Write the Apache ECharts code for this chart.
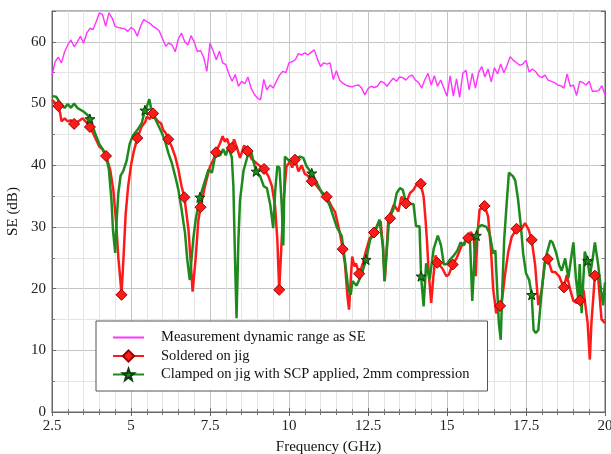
<!DOCTYPE html>
<html><head><meta charset="utf-8">
<script src="https://cdn.jsdelivr.net/npm/echarts@6/dist/echarts.min.js"></script>
<style>html,body{margin:0;padding:0;background:#fff}#c{width:611px;height:454px}</style>
</head><body><div id="c"></div>
<script>
// ---- Data ----
const xTickLabels = ['2.5','5','7.5','10','12.5','15','17.5','20'];
const yTickLabels = ['0','10','20','30','40','50','60'];
const seriesNames = ['Measurement dynamic range as SE','Soldered on jig','Clamped on jig with SCP applied, 2mm compression'];

const magFreq = [2.5,2.6,2.7,2.8,2.9,3.0,3.1,3.2,3.3,3.4,3.5,3.6,3.7,3.8,3.9,4.0,4.1,4.2,4.3,4.4,4.5,4.6,4.7,4.8,4.9,5.0,5.1,5.2,5.3,5.4,5.5,5.6,5.7,5.8,5.9,6.0,6.1,6.2,6.3,6.4,6.5,6.6,6.7,6.8,6.9,7.0,7.1,7.2,7.3,7.4,7.5,7.6,7.7,7.8,7.9,8.0,8.1,8.2,8.3,8.4,8.5,8.6,8.7,8.8,8.9,9.0,9.1,9.2,9.3,9.4,9.5,9.6,9.7,9.8,9.9,10.0,10.1,10.2,10.3,10.4,10.5,10.6,10.7,10.8,10.9,11.0,11.1,11.2,11.3,11.4,11.5,11.6,11.7,11.8,11.9,12.0,12.1,12.2,12.3,12.4,12.5,12.6,12.7,12.8,12.9,13.0,13.1,13.2,13.3,13.4,13.5,13.6,13.7,13.8,13.9,14.0,14.1,14.2,14.3,14.4,14.5,14.6,14.7,14.8,14.9,15.0,15.1,15.2,15.3,15.4,15.5,15.6,15.7,15.8,15.9,16.0,16.1,16.2,16.3,16.4,16.5,16.6,16.7,16.8,16.9,17.0,17.1,17.2,17.3,17.4,17.5,17.6,17.7,17.8,17.9,18.0,18.1,18.2,18.3,18.4,18.5,18.6,18.7,18.8,18.9,19.0,19.1,19.2,19.3,19.4,19.5,19.6,19.7,19.8,19.9,20.0];
const magSE = [54.5,56.8,57.5,56.6,58.4,59.5,60.3,59.2,60.0,60.9,59.8,61.4,62.2,62.0,63.3,64.7,64.4,62.5,64.7,63.9,62.5,62.3,62.2,62.1,61.7,62.3,62.0,60.9,62.5,63.6,63.3,63.0,62.5,62.2,61.7,60.5,59.3,59.8,59.5,58.4,60.5,61.4,60.0,59.5,61.0,60.0,58.4,58.6,57.5,55.2,59.8,58.5,57.1,58.5,56.6,56.3,54.8,53.6,54.7,52.8,53.6,53.2,54.3,52.5,51.5,50.9,50.6,53.9,52.2,53.0,52.5,53.6,54.6,55.2,55.0,56.6,56.8,57.1,58.1,57.9,58.2,57.9,58.3,58.7,57.2,56.0,56.6,56.4,56.6,53.9,55.3,53.8,53.3,53.0,52.8,52.7,52.9,53.0,52.5,51.4,52.4,52.8,52.6,52.8,53.6,53.4,52.8,53.5,54.1,53.6,54.3,54.2,53.8,54.4,54.6,53.8,53.4,52.5,53.9,54.9,53.0,54.5,52.8,53.8,52.5,51.2,54.5,51.2,54.0,51.0,54.9,55.4,52.2,54.9,52.5,55.0,56.0,54.3,55.6,53.5,55.8,54.8,56.4,55.0,56.2,57.6,57.0,56.6,56.2,56.4,57.0,55.1,55.6,55.2,54.5,54.2,54.6,53.8,53.6,53.4,53.0,52.9,52.5,54.8,52.8,53.0,51.3,53.6,53.4,53.0,53.6,52.0,52.0,52.1,52.9,51.4];

const redFreq = [2.5,2.54,2.7,2.76,2.8,2.9,3.0,3.1,3.2,3.33,3.47,3.6,3.7,3.8,3.9,4.0,4.1,4.21,4.34,4.44,4.53,4.6,4.67,4.7,4.77,4.83,4.91,5.01,5.1,5.2,5.34,5.45,5.5,5.6,5.7,5.78,5.86,5.95,6.02,6.1,6.18,6.29,6.4,6.5,6.6,6.69,6.82,6.9,6.95,7.05,7.13,7.2,7.34,7.5,7.6,7.69,7.82,7.9,7.97,8.04,8.12,8.19,8.26,8.35,8.45,8.58,8.69,8.82,8.98,9.1,9.21,9.35,9.46,9.56,9.63,9.69,9.77,9.84,9.92,10.03,10.1,10.19,10.3,10.4,10.5,10.6,10.72,10.82,10.93,11.05,11.19,11.35,11.46,11.61,11.7,11.77,11.85,11.9,11.96,12.0,12.07,12.12,12.22,12.33,12.43,12.55,12.69,12.82,12.9,12.98,13.03,13.09,13.14,13.2,13.32,13.46,13.56,13.7,13.83,13.94,14.07,14.17,14.26,14.32,14.37,14.42,14.5,14.57,14.64,14.69,14.85,14.98,15.06,15.18,15.31,15.46,15.57,15.67,15.76,15.85,15.91,15.96,16.03,16.1,16.19,16.3,16.39,16.46,16.56,16.68,16.75,16.83,16.94,17.05,17.2,17.34,17.47,17.58,17.68,17.79,17.89,18.0,18.09,18.19,18.32,18.42,18.55,18.63,18.7,18.79,18.9,19.0,19.11,19.21,19.32,19.45,19.52,19.57,19.68,19.78,19.89,20.0];
const redSE = [50.6,50.3,49.6,48.4,47.1,47.6,47.1,47.3,46.7,47.1,47.6,46.9,46.2,45.2,44.1,43.0,42.6,41.5,39.3,36.0,30.7,25.0,21.0,19.0,25.8,32.0,36.6,40.3,42.5,44.4,46.3,47.0,47.9,47.5,48.4,47.6,47.1,46.8,45.7,45.2,44.2,43.0,41.4,39.3,36.6,34.8,29.5,23.5,19.5,25.2,31.0,33.2,36.6,39.8,40.8,42.1,43.6,44.7,43.8,44.3,43.0,42.8,44.2,42.9,41.2,43.2,42.3,41.0,40.3,39.8,39.4,38.2,36.6,33.3,28.0,19.8,28.0,35.0,39.8,40.6,39.6,40.9,39.0,40.0,38.6,38.3,37.4,37.0,36.3,35.6,34.9,33.3,32.4,29.0,26.4,24.1,18.7,16.6,22.0,25.2,23.6,24.1,22.4,23.9,26.0,28.1,29.1,30.6,30.9,26.5,21.2,26.0,31.2,31.4,33.6,32.5,34.9,33.8,35.5,36.0,37.2,37.0,34.9,31.2,27.4,22.6,17.7,22.0,25.4,24.2,23.3,22.0,22.3,23.9,25.0,26.9,27.6,28.2,29.2,28.0,22.0,28.5,32.8,33.0,33.4,31.7,26.5,20.0,16.0,17.2,18.5,22.0,26.0,28.4,29.7,29.6,30.6,29.6,27.9,23.8,17.3,19.8,24.1,24.8,22.7,22.7,22.0,21.0,20.2,22.2,19.8,18.0,17.7,18.1,19.8,14.4,8.5,14.4,22.1,22.0,15.0,14.4];
const redMarkerFreq = [2.7,3.2,3.7,4.21,4.7,5.2,5.7,6.18,6.69,7.2,7.69,8.19,8.69,9.21,9.69,10.19,10.72,11.19,11.7,12.22,12.69,13.2,13.7,14.17,14.69,15.18,15.67,16.19,16.68,17.2,17.68,18.19,18.7,19.21,19.68];

const greenFreq = [2.5,2.52,2.63,2.73,2.9,3.0,3.1,3.2,3.3,3.4,3.5,3.63,3.7,3.8,3.9,4.0,4.1,4.21,4.3,4.38,4.43,4.5,4.54,4.6,4.67,4.75,4.86,4.96,5.07,5.2,5.34,5.44,5.5,5.58,5.66,5.76,5.87,5.97,6.08,6.18,6.29,6.4,6.5,6.6,6.71,6.78,6.86,6.97,7.05,7.18,7.29,7.45,7.56,7.66,7.82,7.92,8.0,8.08,8.19,8.24,8.29,8.34,8.4,8.45,8.56,8.69,8.8,8.87,8.96,9.09,9.2,9.3,9.41,9.5,9.56,9.63,9.7,9.77,9.82,9.87,9.93,10.03,10.19,10.35,10.45,10.56,10.72,10.88,11.04,11.2,11.3,11.51,11.67,11.77,11.88,11.95,12.01,12.14,12.3,12.44,12.57,12.65,12.78,12.86,12.97,13.02,13.09,13.17,13.3,13.41,13.51,13.6,13.7,13.83,13.94,14.02,14.13,14.18,14.26,14.34,14.45,14.58,14.71,14.81,14.9,15.0,15.11,15.22,15.33,15.43,15.54,15.64,15.72,15.8,15.87,15.93,15.99,16.1,16.25,16.35,16.46,16.53,16.59,16.64,16.7,16.75,16.81,16.89,16.96,17.0,17.09,17.16,17.25,17.34,17.41,17.5,17.6,17.68,17.74,17.81,17.89,18.0,18.11,18.27,18.34,18.45,18.55,18.63,18.74,18.84,18.93,19.0,19.08,19.15,19.2,19.26,19.36,19.45,19.52,19.6,19.68,19.78,19.87,19.94,20.0];
const greenSE = [51.2,51.4,51.1,50.3,49.3,49.9,49.3,50.0,49.3,49.0,48.7,48.1,47.5,46.1,44.7,43.4,42.6,41.5,39.3,34.5,29.5,25.8,30.6,35.5,38.3,39.0,40.7,43.5,44.9,45.7,46.8,48.9,49.5,50.7,48.6,47.6,46.4,45.3,43.9,42.0,40.4,38.2,36.0,32.8,29.0,24.7,21.4,28.0,31.3,34.8,36.6,39.3,38.8,41.4,41.6,42.6,41.6,42.9,41.3,36.6,25.2,15.2,28.0,34.3,39.1,41.5,42.3,40.7,39.0,38.2,36.6,36.3,33.5,29.8,35.6,39.8,39.6,33.5,27.0,41.4,41.6,40.6,40.9,41.4,41.2,39.8,38.7,37.2,35.5,34.4,33.3,30.0,28.5,24.5,19.8,19.0,21.2,20.5,22.3,24.7,28.0,28.5,29.9,31.2,27.0,21.2,26.0,31.4,32.8,35.5,36.3,36.0,34.0,33.7,33.7,30.1,30.1,22.0,17.1,24.1,21.5,26.5,28.6,27.0,23.9,24.0,24.8,25.4,26.2,27.5,27.0,28.6,28.9,18.0,25.0,28.6,30.0,30.3,30.0,28.9,25.7,26.2,19.8,14.4,11.7,19.8,28.0,33.9,38.8,39.1,38.2,37.5,34.4,30.0,25.7,22.5,21.4,19.0,13.3,12.8,13.3,19.8,24.8,27.8,27.5,25.9,23.8,22.9,24.9,21.7,25.0,27.5,21.7,18.5,24.0,16.0,26.0,24.5,22.0,24.5,27.5,24.0,20.0,17.3,21.0];
const greenMarkerFreq = [3.7,5.44,7.18,8.96,10.72,12.44,14.18,15.93,17.68,19.45];

// ---- Build ----
function build(fx, fy, marks) {
  return fx.map((x, i) => marks.indexOf(x) >= 0 ? [x, fy[i]] : { value: [x, fy[i]], symbol: 'none' });
}
const starPath = 'path://M0,-10L2.35,-3.24L9.51,-3.09L3.8,1.24L5.88,8.09L0,4L-5.88,8.09L-3.8,1.24L-9.51,-3.09L-2.35,-3.24Z';
const serif = '"Liberation Serif","DejaVu Serif",serif';

const chart = echarts.init(document.getElementById('c'), null, { renderer: 'canvas' });
const axisCommon = {
  type: 'value',
  axisLine: { show: true, lineStyle: { color: '#666', width: 1 } },
};
chart.setOption({
  animation: false,
  backgroundColor: '#fff',
  grid: { left: 52, right: 6, top: 11, bottom: 42, show: true, borderColor: '#666', borderWidth: 1,
          containLabel: false, outerBoundsMode: 'none' },
  legend: {
    orient: 'vertical', left: 96, top: 321,
    padding: [9, 18, 9, 16], itemGap: 3.5, itemWidth: 31, itemHeight: 14,
    borderColor: '#555', borderWidth: 1, backgroundColor: '#fff', borderRadius: 0,
    data: [
      { name: seriesNames[0], itemStyle: { color: 'rgba(0,0,0,0)', borderWidth: 0, opacity: 0 } },
      { name: seriesNames[1] },
      { name: seriesNames[2] }
    ],
    textStyle: { fontFamily: serif, fontSize: 14.5, color: '#111', padding: [0, 0, 0, 12] }
  },
  xAxis: [{
    ...axisCommon, min: 2.5, max: 20, interval: 2.5,
    name: 'Frequency (GHz)', nameLocation: 'middle', nameGap: 28,
    nameTextStyle: { fontFamily: serif, fontSize: 15, color: '#111' },
    axisLabel: { fontFamily: serif, fontSize: 15, color: '#222', margin: 7,
      formatter: (v) => { const s = xTickLabels.find(t => parseFloat(t) === v); return s === undefined ? '' : s; } },
    axisTick: { show: true, inside: true, length: 4, lineStyle: { color: '#666' } },
    minorTick: { show: true, splitNumber: 5, length: 3, lineStyle: { color: '#777' } },
    splitLine: { show: true, lineStyle: { color: '#c4c4c4', width: 1 } },
    minorSplitLine: { show: true, lineStyle: { color: '#e4e4e4', width: 1 } }
  }, {
    ...axisCommon, position: 'top', min: 2.5, max: 20, interval: 2.5,
    axisLabel: { show: false },
    axisTick: { show: true, inside: true, length: 4, lineStyle: { color: '#666' } },
    minorTick: { show: true, splitNumber: 5, length: 3, lineStyle: { color: '#777' } },
    splitLine: { show: false }
  }],
  yAxis: [{
    ...axisCommon, min: 0, max: 65, interval: 10,
    name: 'SE (dB)', nameLocation: 'middle', nameGap: 27, nameRotate: 90,
    nameTextStyle: { fontFamily: serif, fontSize: 15, color: '#111' },
    axisLabel: { fontFamily: serif, fontSize: 15, color: '#222', margin: 6, showMaxLabel: false,
      formatter: (v) => { const s = yTickLabels.find(t => parseFloat(t) === v); return s === undefined ? '' : s; } },
    axisTick: { show: true, inside: true, length: 4, lineStyle: { color: '#666' } },
    minorTick: { show: true, splitNumber: 2, length: 3, lineStyle: { color: '#777' } },
    splitLine: { show: true, lineStyle: { color: '#c4c4c4', width: 1 } },
    minorSplitLine: { show: true, lineStyle: { color: '#e4e4e4', width: 1 } }
  }, {
    ...axisCommon, position: 'right', min: 0, max: 65, interval: 10,
    axisLabel: { show: false },
    axisTick: { show: true, inside: true, length: 4, lineStyle: { color: '#666' } },
    minorTick: { show: true, splitNumber: 2, length: 3, lineStyle: { color: '#777' } },
    splitLine: { show: false }
  }],
  series: [{
    name: seriesNames[0], type: 'line', symbol: 'none',
    data: magFreq.map((x, i) => [x, magSE[i]]),
    lineStyle: { color: '#ff33ff', width: 1.4 }, itemStyle: { color: '#ff33ff' }
  }, {
    name: seriesNames[1], type: 'line', symbol: 'diamond', symbolSize: 11,
    showSymbol: true, showAllSymbol: true,
    data: build(redFreq, redSE, redMarkerFreq),
    lineStyle: { color: '#ff1a1a', width: 2.5 },
    itemStyle: { color: '#ff1a1a', borderColor: '#9a0000', borderWidth: 1 }
  }, {
    name: seriesNames[2], type: 'line', symbol: starPath, symbolSize: 10,
    showSymbol: true, showAllSymbol: true,
    data: build(greenFreq, greenSE, greenMarkerFreq),
    lineStyle: { color: '#1e8a1e', width: 2.5 },
    itemStyle: { color: '#1e8a1e', borderColor: '#0b3a0b', borderWidth: 1 }
  }]
});
</script>
</body></html>
